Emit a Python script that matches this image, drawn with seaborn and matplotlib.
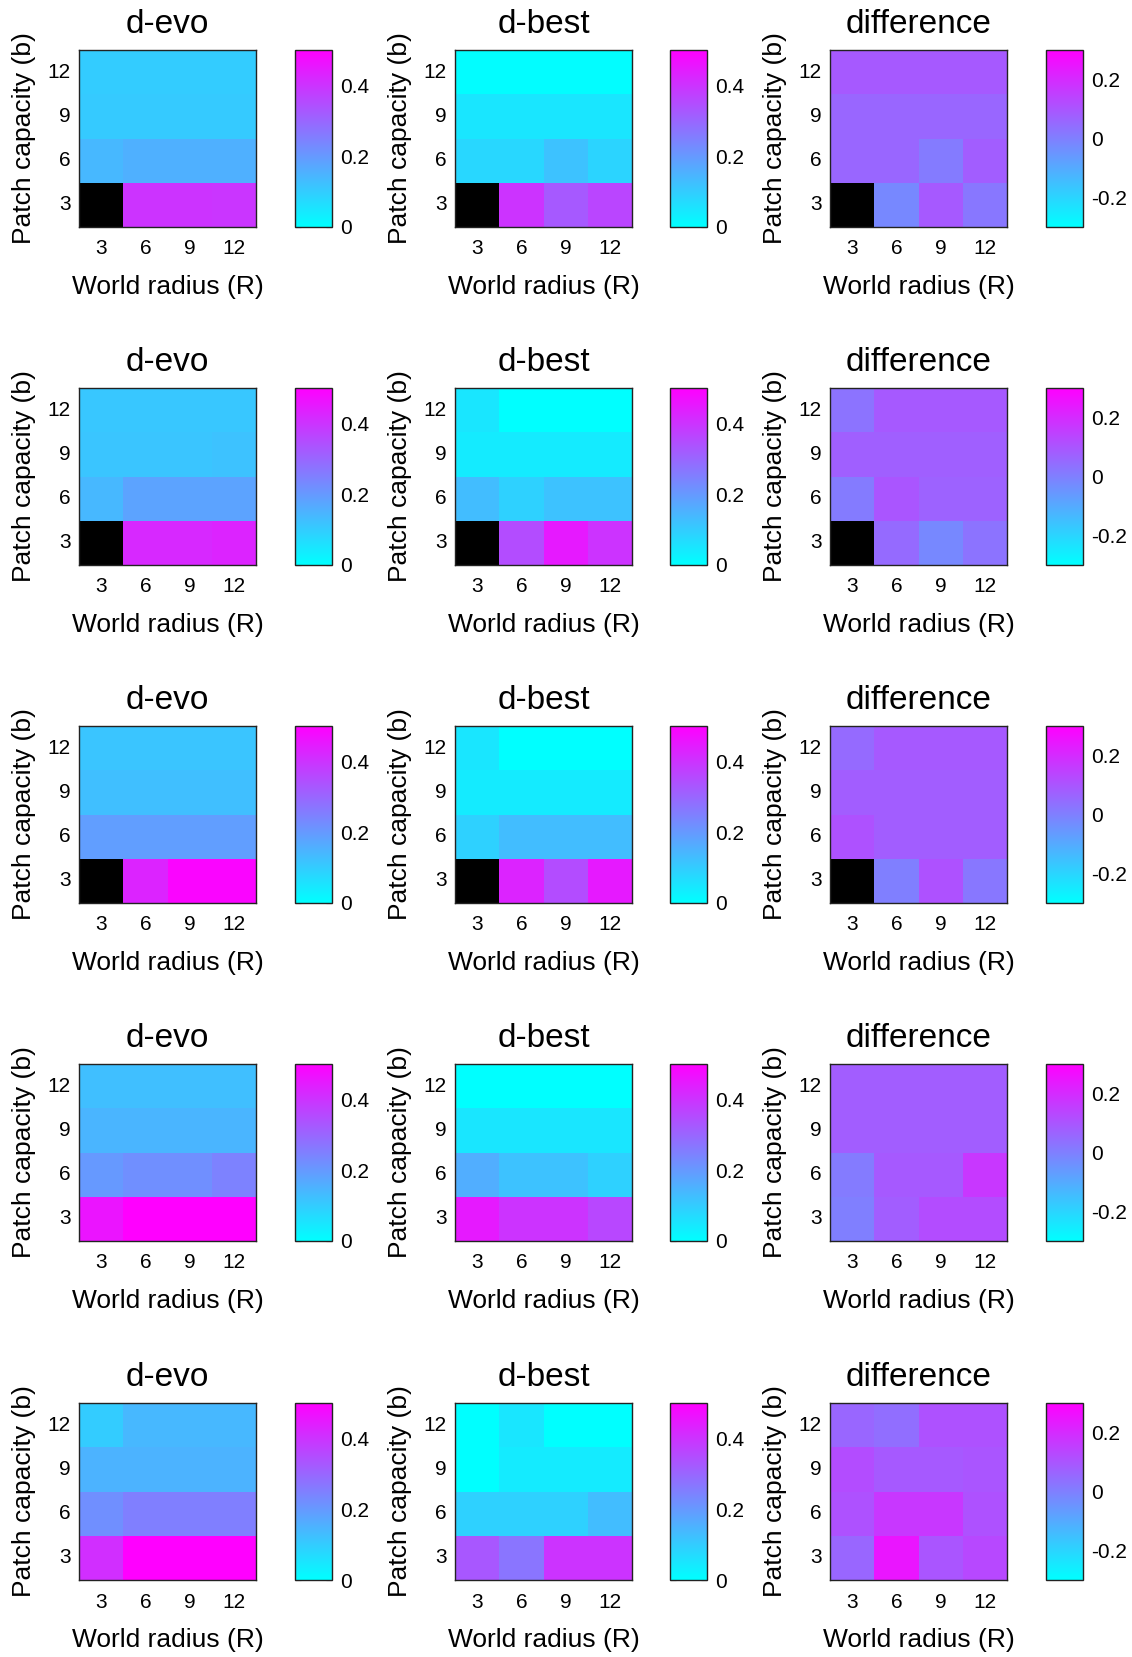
import numpy as np
import pandas as pd
import seaborn as sns
import matplotlib.pyplot as plt

nan = np.nan

# columns: world radius R ; rows: patch capacity b (top to bottom)
radius = [3, 6, 9, 12]
capacity = [12, 9, 6, 3]

evo_1 = [[0.10, 0.10, 0.10, 0.10],
         [0.105, 0.105, 0.105, 0.105],
         [0.14, 0.155, 0.155, 0.155],
         [nan, 0.40, 0.40, 0.395]]
best_1 = [[0.005, 0.005, 0.005, 0.005],
          [0.05, 0.05, 0.05, 0.05],
          [0.08, 0.08, 0.12, 0.085],
          [nan, 0.40, 0.325, 0.365]]
diff_1 = [[0.09, 0.09, 0.09, 0.09],
          [0.06, 0.06, 0.06, 0.06],
          [0.06, 0.06, 0.01, 0.08],
          [nan, -0.02, 0.09, 0.02]]

evo_2 = [[0.11, 0.11, 0.11, 0.11],
         [0.115, 0.115, 0.115, 0.12],
         [0.14, 0.18, 0.18, 0.18],
         [nan, 0.42, 0.42, 0.43]]
best_2 = [[0.05, 0.0, 0.0, 0.0],
          [0.04, 0.04, 0.04, 0.04],
          [0.13, 0.09, 0.12, 0.12],
          [nan, 0.35, 0.45, 0.40]]
diff_2 = [[0.03, 0.09, 0.09, 0.09],
          [0.075, 0.075, 0.075, 0.075],
          [0.01, 0.10, 0.07, 0.07],
          [nan, 0.05, -0.02, 0.03]]

evo_3 = [[0.115, 0.115, 0.115, 0.115],
         [0.125, 0.125, 0.125, 0.125],
         [0.19, 0.19, 0.19, 0.19],
         [nan, 0.43, 0.49, 0.49]]
best_3 = [[0.05, 0.0, 0.0, 0.0],
          [0.04, 0.04, 0.04, 0.04],
          [0.09, 0.13, 0.13, 0.13],
          [nan, 0.43, 0.35, 0.45]]
diff_3 = [[0.05, 0.09, 0.09, 0.09],
          [0.08, 0.08, 0.08, 0.08],
          [0.11, 0.08, 0.08, 0.08],
          [nan, 0.0, 0.11, 0.02]]

evo_4 = [[0.125, 0.125, 0.125, 0.125],
         [0.145, 0.145, 0.145, 0.145],
         [0.20, 0.22, 0.22, 0.245],
         [0.46, 0.50, 0.50, 0.50]]
best_4 = [[0.0, 0.0, 0.0, 0.0],
          [0.05, 0.05, 0.05, 0.05],
          [0.16, 0.12, 0.12, 0.09],
          [0.45, 0.40, 0.40, 0.36]]
diff_4 = [[0.08, 0.08, 0.08, 0.08],
          [0.08, 0.08, 0.08, 0.08],
          [0.01, 0.09, 0.09, 0.17],
          [0.0, 0.08, 0.12, 0.12]]

evo_5 = [[0.10, 0.14, 0.14, 0.14],
         [0.15, 0.15, 0.15, 0.15],
         [0.22, 0.25, 0.25, 0.25],
         [0.41, 0.50, 0.50, 0.50]]
best_5 = [[0.0, 0.05, 0.0, 0.0],
          [0.0, 0.04, 0.04, 0.04],
          [0.09, 0.09, 0.09, 0.13],
          [0.33, 0.27, 0.40, 0.40]]
diff_5 = [[0.06, 0.04, 0.11, 0.11],
          [0.12, 0.09, 0.09, 0.10],
          [0.11, 0.17, 0.17, 0.11],
          [0.06, 0.25, 0.10, 0.13]]

rows = [(evo_1, best_1, diff_1), (evo_2, best_2, diff_2), (evo_3, best_3, diff_3),
        (evo_4, best_4, diff_4), (evo_5, best_5, diff_5)]
titles = ['d-evo', 'd-best', 'difference']
ranges = [(0, 0.5, [0, 0.2, 0.4]), (0, 0.5, [0, 0.2, 0.4]), (-0.3, 0.3, [-0.2, 0, 0.2])]

sns.set_style('white')
plt.rcParams['font.family'] = ['Liberation Sans', 'DejaVu Sans']
plt.rcParams['text.color'] = 'black'
plt.rcParams['axes.labelcolor'] = 'black'
plt.rcParams['xtick.color'] = 'black'
plt.rcParams['ytick.color'] = 'black'

W, H = 1132, 1657
fig = plt.figure(figsize=(W / 100, H / 100), dpi=100)

hm_x = [79, 455, 830]
cb_x = [295, 670, 1046]
row_y = [50, 388, 726, 1064, 1403]
size = 177
cb_w = 37

for r, panels in enumerate(rows):
    for c, vals in enumerate(panels):
        top = row_y[r]
        ax = fig.add_axes([hm_x[c] / W, 1 - (top + size) / H, size / W, size / H])
        cax = fig.add_axes([cb_x[c] / W, 1 - (top + size) / H, cb_w / W, size / H])
        vmin, vmax, cticks = ranges[c]
        df = pd.DataFrame(vals, index=capacity, columns=radius)
        ax.set_facecolor('black')
        sns.heatmap(df, ax=ax, cbar_ax=cax, cmap='cool', vmin=vmin, vmax=vmax,
                    square=False, linewidths=0)
        for sp in ax.spines.values():
            sp.set_visible(True)
            sp.set_color('#222222')
            sp.set_linewidth(1.0)
        ax.tick_params(direction='in', length=4, top=True, right=True,
                       labelsize=15, color='#222222')
        ax.tick_params(axis='x', pad=9)
        ax.tick_params(axis='y', pad=6)
        ax.set_yticklabels([str(v) for v in capacity], rotation=0)
        ax.set_xticklabels([str(v) for v in radius], rotation=0)
        ax.set_title(titles[c], fontsize=24, pad=12)
        ax.set_xlabel('World radius (R)', fontsize=19, labelpad=12)
        ax.set_ylabel('Patch capacity (b)', fontsize=19, labelpad=8)

        cax.set_yticks(cticks)
        cax.set_yticklabels([('%g' % t) for t in cticks])
        cax.tick_params(direction='in', length=4, left=True, right=True,
                        labelsize=15, pad=6, color='#222222')
        cb = ax.collections[0].colorbar
        cb.outline.set_linewidth(1.0)
        cb.outline.set_edgecolor('#222222')

fig.savefig('out.png', dpi=100, facecolor='white')
